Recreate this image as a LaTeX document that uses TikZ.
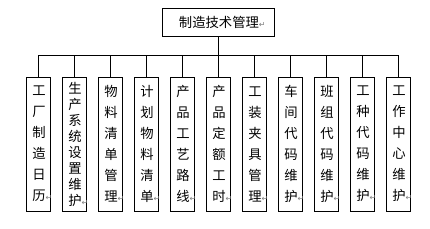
\documentclass[tikz,border=0pt]{standalone}
\usepackage{fontspec}
\setmainfont{Noto Sans CJK SC}
\newfontfamily\symfont{DejaVu Sans}
\usepackage{tikz}
\usetikzlibrary{positioning}
\usepackage{xcolor}
\tikzstyle{item} = [rectangle, draw, line width=0.75pt, minimum width=18pt, minimum height=100.5pt, inner sep=0pt, align=center, font=\fontsize{10pt}{15.75pt}\selectfont]
\tikzstyle{link} = [line width=0.75pt]
\newcommand{\retmark}{\rlap{\textcolor{gray}{\symfont\fontsize{6pt}{6pt}\selectfont ↵}}}

\begin{document}
\begin{tikzpicture}[x=0.75pt, y=-0.75pt, node distance=27pt]
\useasboundingbox (0,0) rectangle (430,229);

\node (mgmt) [rectangle, draw, line width=0.75pt, minimum width=84pt, minimum height=21pt, font=\fontsize{10pt}{12pt}\selectfont] at (219,22) {制造技术管理\retmark};

\node (calendar)  [item] at (39,144) {工\\厂\\制\\造\\日\\历\retmark};
\node (sysset)    [item, right of=calendar, font=\fontsize{10pt}{12pt}\selectfont] {生\\产\\系\\统\\设\\置\\维\\护\retmark};
\node (bom)       [item, right of=sysset] {物\\料\\清\\单\\管\\理\retmark};
\node (plan)      [item, right of=bom] {计\\划\\物\\料\\清\\单\retmark};
\node (route)     [item, right of=plan] {产\\品\\工\\艺\\路\\线\retmark};
\node (quota)     [item, right of=route] {产\\品\\定\\额\\工\\时\retmark};
\node (tooling)   [item, right of=quota] {工\\装\\夹\\具\\管\\理\retmark};
\node (workshop)  [item, right of=tooling] {车\\间\\代\\码\\维\\护\retmark};
\node (team)      [item, right of=workshop] {班\\组\\代\\码\\维\\护\retmark};
\node (trade)     [item, right of=team] {工\\种\\代\\码\\维\\护\retmark};
\node (center)    [item, right of=trade] {工\\作\\中\\心\\维\\护\retmark};

\coordinate (bus) at (219,55);
\draw[link] (mgmt) -- (bus);
\foreach \n in {calendar, sysset, bom, plan, route, quota, tooling, workshop, team, trade, center}
  \draw[link] (bus) -| (\n);

\end{tikzpicture}
\end{document}
